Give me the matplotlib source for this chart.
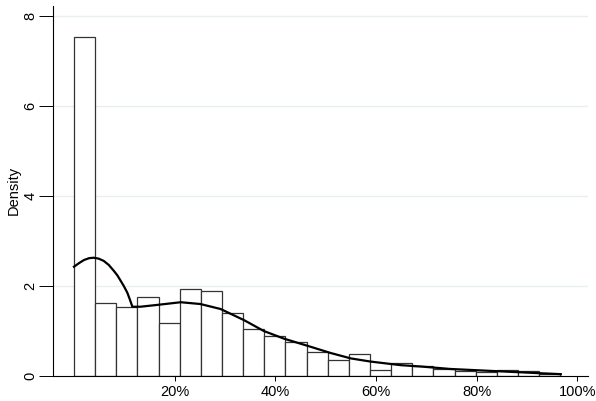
import numpy as np
import matplotlib
matplotlib.use('Agg')
from matplotlib import pyplot as plt
from matplotlib.ticker import FuncFormatter

# histogram: 23 bins of width 0.042 starting at 0
bin_start = 0.0
bin_width = 0.042
density = [7.54, 1.61, 1.52, 1.74, 1.17, 1.92, 1.87, 1.38, 1.03, 0.88,
           0.75, 0.53, 0.35, 0.48, 0.12, 0.27, 0.21, 0.14, 0.10, 0.08,
           0.13, 0.10, 0.04]

# kernel density estimate
kde_x = [0.0, 0.010, 0.020, 0.030, 0.039, 0.049, 0.059, 0.069, 0.079,
         0.086, 0.092, 0.099, 0.106, 0.111, 0.116, 0.132, 0.165, 0.212,
         0.251, 0.291, 0.338, 0.377, 0.417, 0.464, 0.510, 0.550, 0.589,
         0.649, 0.689, 0.748, 0.795, 0.861, 0.927, 0.967]
kde_y = [2.42, 2.50, 2.57, 2.61, 2.62, 2.60, 2.55, 2.46, 2.33,
         2.23, 2.12, 1.99, 1.84, 1.69, 1.53, 1.53, 1.57, 1.63,
         1.59, 1.48, 1.23, 0.99, 0.82, 0.66, 0.50, 0.38, 0.31,
         0.23, 0.20, 0.145, 0.12, 0.085, 0.05, 0.03]

xticks = [0.2, 0.4, 0.6, 0.8, 1.0]
yticks = [0, 2, 4, 6, 8]

plt.rcParams['font.family'] = ['Liberation Sans', 'DejaVu Sans']
fig = plt.figure(figsize=(5.96, 4.01), dpi=100)
ax = fig.add_axes([53 / 596, 1 - 375.5 / 401, (588 - 53) / 596, (375.5 - 6) / 401])

lefts = bin_start + bin_width * np.arange(len(density))
ax.bar(lefts, density, width=bin_width, align='edge', facecolor='white',
       edgecolor='#333333', linewidth=0.9, zorder=2)
ax.plot(kde_x, kde_y, color='black', linewidth=1.6, zorder=3)

ax.set_xlim(-0.0417, 1.021)
ax.set_ylim(0, 8.22)
ax.set_xticks(xticks)
ax.xaxis.set_major_formatter(FuncFormatter(lambda v, p: f'{v * 100:.0f}%'))
ax.set_yticks(yticks)
ax.set_yticklabels([str(t) for t in yticks], rotation=90, va='center')

for y in yticks[1:]:
    ax.axhline(y, color='#e8efef', linewidth=1.0, zorder=1)

for side in ['top', 'right']:
    ax.spines[side].set_visible(False)
for side in ['left', 'bottom']:
    ax.spines[side].set_linewidth(0.8)
    ax.spines[side].set_color('black')
    ax.spines[side].set_zorder(4)

ax.tick_params(axis='x', length=3.6, width=0.7, pad=3, labelsize=10.5)
ax.tick_params(axis='y', length=10, width=0.7, pad=1, labelsize=10.5)
ax.set_ylabel('Density', fontsize=10.5, labelpad=2)

fig.savefig('out.png', dpi=100)
